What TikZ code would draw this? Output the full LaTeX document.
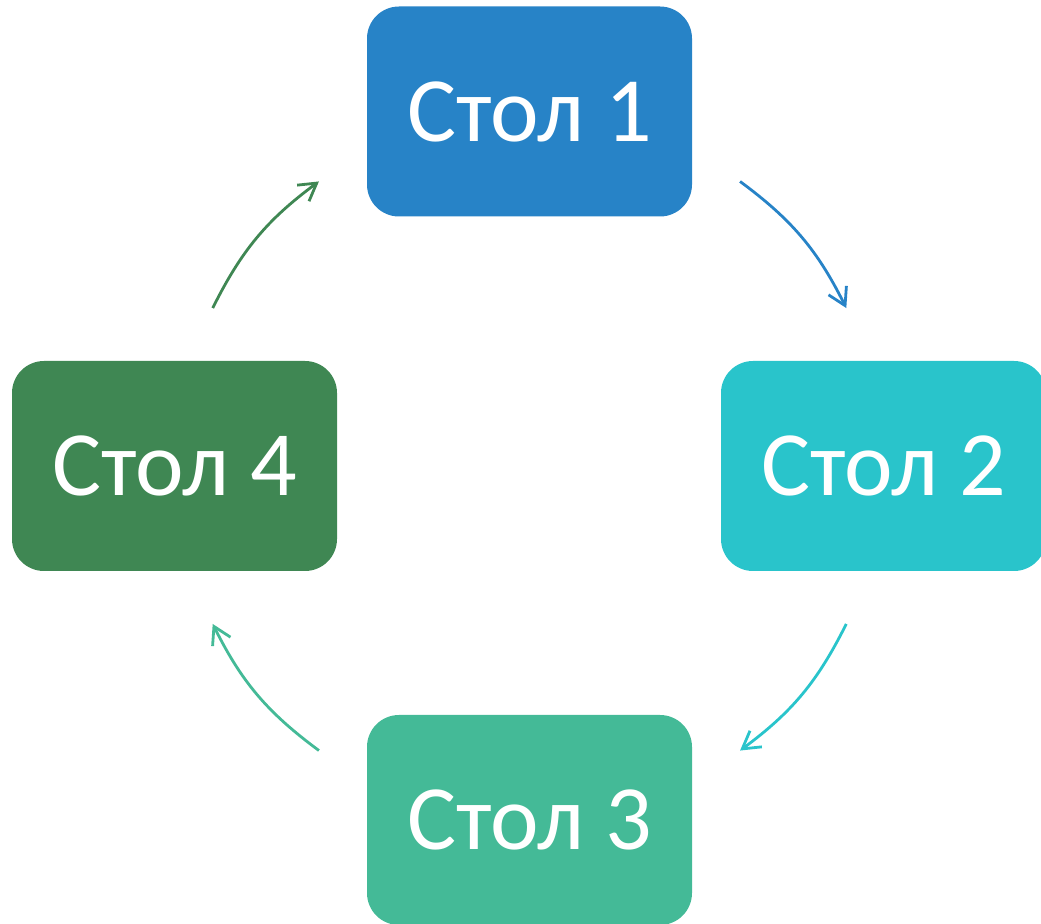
\documentclass[tikz,border=0pt]{standalone}
\usepackage{fontspec}
\setmainfont{Carlito}
\usetikzlibrary{arrows.meta}
\definecolor{tblue}{HTML}{2783C7}
\definecolor{tcyan}{HTML}{29C4CB}
\definecolor{tmint}{HTML}{44BA97}
\definecolor{tgreen}{HTML}{3F8753}

\begin{document}
\begin{tikzpicture}[x = 0.5pt, y = 0.5pt,
  table/.style = {rounded corners = 16pt, minimum width = 162.5pt, minimum height = 105pt,
    inner sep = 0pt, text = white, font = \fontsize{46}{55}\selectfont},
  cyc/.style = {-{Straight Barb[length = 8.5pt, width = 10pt]}, line width = 1.4pt}]
\useasboundingbox (0,0) rectangle (1041,923);
\node [table, fill = tblue] (s1) at (529.5, 811.5) {Стол 1};
\node [table, fill = tcyan] (s2) at (883.5, 457) {Стол 2};
\node [table, fill = tmint] (s3) at (529.5, 103) {Стол 3};
\node [table, fill = tgreen] (s4) at (174.5, 457) {Стол 4};
\begin{scope}[shift = {(529.5, 457)}] % ends of the arcs on the circle
\coordinate (a1) at (53.5:354);
\coordinate (b1) at (26.5:354);
\coordinate (a2) at (-26.5:354);
\coordinate (b2) at (-53.5:354);
\coordinate (a3) at (-126.5:354);
\coordinate (b3) at (-153.5:354);
\coordinate (a4) at (153.5:354);
\coordinate (b4) at (126.5:354);
\end{scope}
\draw [cyc, color = tblue] (a1) to[bend left = 13.5] (b1);
\draw [cyc, color = tcyan] (a2) to[bend left = 13.5] (b2);
\draw [cyc, color = tmint] (a3) to[bend left = 13.5] (b3);
\draw [cyc, color = tgreen] (a4) to[bend left = 13.5] (b4);
\end{tikzpicture}
\end{document}
